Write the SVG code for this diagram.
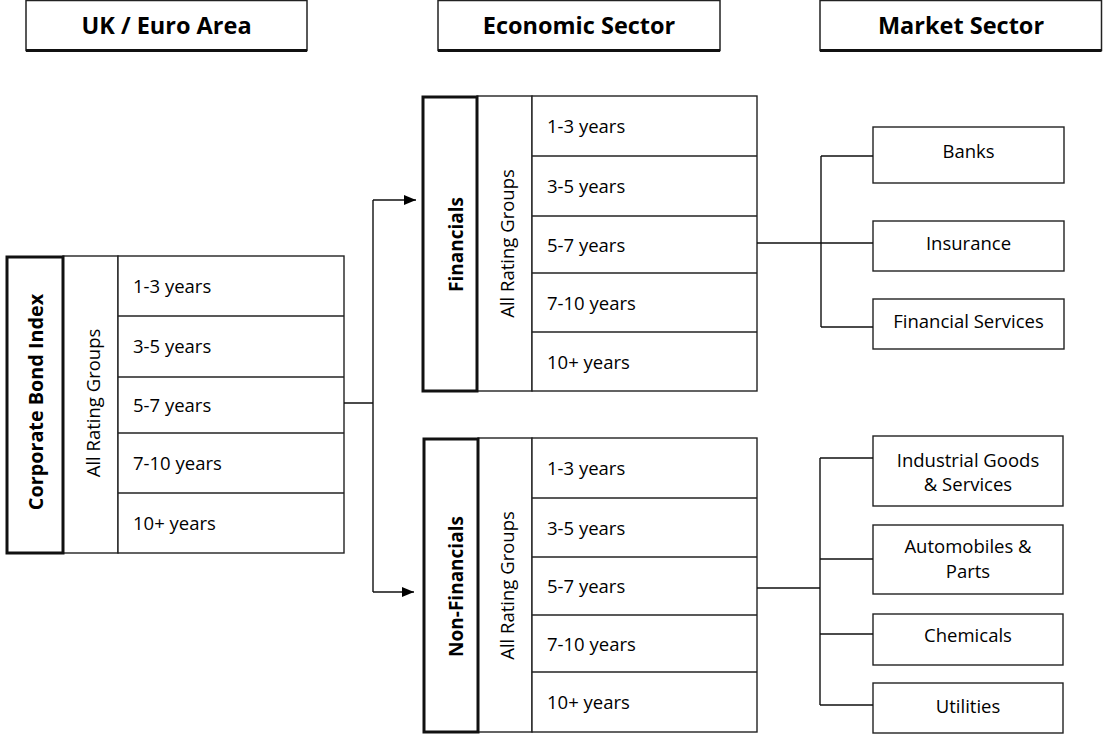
<svg xmlns="http://www.w3.org/2000/svg" width="1103" height="735" viewBox="0 0 1103 735">
<style>
  .hdr { fill:#fff; stroke:#222; stroke-width:1.5; }
  .shadow { stroke:#111; stroke-width:3; }
  .thick { fill:#fff; stroke:#111; stroke-width:3; }
  .thin { fill:#fff; stroke:#222; stroke-width:1.4; }
  .row { stroke:#222; stroke-width:1.4; }
  .conn { fill:none; stroke:#111; stroke-width:1.4; }
  text { font-family:"Open Sans","Noto Sans","Liberation Sans",sans-serif; fill:#000; }
  .h { font-size:23.5px; font-weight:bold; text-anchor:middle; }
  .b { font-size:19px; font-weight:bold; text-anchor:middle; }
  .bc { font-size:19.8px; font-weight:bold; text-anchor:middle; }
  .v { font-size:18.5px; text-anchor:middle; }
  .y { font-size:18.5px; }
  .m { font-size:18.5px; text-anchor:middle; }
</style>
<defs>
  <marker id="arr" markerWidth="12" markerHeight="10" refX="12" refY="5" orient="auto" markerUnits="userSpaceOnUse">
    <polygon points="0,0 12,5 0,10" fill="#000"/>
  </marker>
</defs>
<rect width="1103" height="735" fill="#fff"/>

<g id="hdr-uk">
  <rect class="hdr" x="26" y="0.5" width="281" height="50"/>
  <line class="shadow" x1="26" y1="50.5" x2="307" y2="50.5"/>
  <text class="h" x="166.5" y="34">UK / Euro Area</text>
</g>
<g id="hdr-econ">
  <rect class="hdr" x="438" y="0.5" width="282" height="50"/>
  <line class="shadow" x1="438" y1="50.5" x2="720" y2="50.5"/>
  <text class="h" x="579" y="34">Economic Sector</text>
</g>
<g id="hdr-market">
  <rect class="hdr" x="820" y="0.5" width="281.5" height="50"/>
  <line class="shadow" x1="820" y1="50.5" x2="1101.5" y2="50.5"/>
  <text class="h" x="961" y="34">Market Sector</text>
</g>

<g id="corporate">
  <rect class="thin" x="63" y="256" width="55" height="297"/>
  <rect class="thin" x="118" y="256" width="226" height="297"/>
  <line class="row" x1="118" y1="316" x2="344" y2="316"/>
  <line class="row" x1="118" y1="377" x2="344" y2="377"/>
  <line class="row" x1="118" y1="433" x2="344" y2="433"/>
  <line class="row" x1="118" y1="493" x2="344" y2="493"/>
  <rect class="thick" x="7" y="257" width="56" height="296"/>
  <text class="bc" x="43" y="402" transform="rotate(-90 43 402)">Corporate Bond Index</text>
  <text class="v" x="100" y="403" transform="rotate(-90 100 403)">All Rating Groups</text>
  <text class="y" x="133" y="292.5">1-3 years</text>
  <text class="y" x="133" y="353">3-5 years</text>
  <text class="y" x="133" y="411.5">5-7 years</text>
  <text class="y" x="133" y="469.5">7-10 years</text>
  <text class="y" x="133" y="529.5">10+ years</text>
</g>

<g id="financials">
  <rect class="thin" x="477" y="96" width="55" height="295"/>
  <rect class="thin" x="532" y="96" width="225" height="295"/>
  <line class="row" x1="532" y1="156" x2="757" y2="156"/>
  <line class="row" x1="532" y1="216" x2="757" y2="216"/>
  <line class="row" x1="532" y1="273" x2="757" y2="273"/>
  <line class="row" x1="532" y1="332" x2="757" y2="332"/>
  <rect class="thick" x="423" y="97" width="54" height="294"/>
  <text class="b" x="463" y="244.5" transform="rotate(-90 463 244.5)">Financials</text>
  <text class="v" x="514" y="243.5" transform="rotate(-90 514 243.5)">All Rating Groups</text>
  <text class="y" x="547" y="133">1-3 years</text>
  <text class="y" x="547" y="193">3-5 years</text>
  <text class="y" x="547" y="251.5">5-7 years</text>
  <text class="y" x="547" y="309.5">7-10 years</text>
  <text class="y" x="547" y="368.5">10+ years</text>
</g>

<g id="non-financials">
  <rect class="thin" x="478" y="438" width="54" height="294"/>
  <rect class="thin" x="532" y="438" width="225" height="294"/>
  <line class="row" x1="532" y1="498" x2="757" y2="498"/>
  <line class="row" x1="532" y1="557" x2="757" y2="557"/>
  <line class="row" x1="532" y1="615" x2="757" y2="615"/>
  <line class="row" x1="532" y1="672" x2="757" y2="672"/>
  <rect class="thick" x="424" y="439" width="54" height="293"/>
  <text class="b" x="463" y="586.5" transform="rotate(-90 463 586.5)">Non-Financials</text>
  <text class="v" x="514" y="585.5" transform="rotate(-90 514 585.5)">All Rating Groups</text>
  <text class="y" x="547" y="475">1-3 years</text>
  <text class="y" x="547" y="534.5">3-5 years</text>
  <text class="y" x="547" y="593">5-7 years</text>
  <text class="y" x="547" y="650.5">7-10 years</text>
  <text class="y" x="547" y="709">10+ years</text>
</g>

<g id="banks">
  <rect class="thin" x="873" y="127" width="191" height="56"/>
  <text class="m" x="968.5" y="158">Banks</text>
</g>
<g id="insurance">
  <rect class="thin" x="873" y="221" width="191" height="50"/>
  <text class="m" x="968.5" y="250">Insurance</text>
</g>
<g id="financial-services">
  <rect class="thin" x="873" y="299" width="191" height="50"/>
  <text class="m" x="968.5" y="328">Financial Services</text>
</g>
<g id="industrial">
  <rect class="thin" x="873" y="436" width="190" height="70"/>
  <text class="m" x="968" y="467">Industrial Goods</text>
  <text class="m" x="968" y="491">&amp; Services</text>
</g>
<g id="automobiles">
  <rect class="thin" x="873" y="525" width="190" height="69"/>
  <text class="m" x="968" y="553">Automobiles &amp;</text>
  <text class="m" x="968" y="578">Parts</text>
</g>
<g id="chemicals">
  <rect class="thin" x="873" y="614" width="190" height="51"/>
  <text class="m" x="968" y="642">Chemicals</text>
</g>
<g id="utilities">
  <rect class="thin" x="873" y="683" width="190" height="50"/>
  <text class="m" x="968" y="713">Utilities</text>
</g>

<g id="connectors">
  <path class="conn" d="M344,403 H373 M373,200 V592"/>
  <path class="conn" d="M373,200 H416" marker-end="url(#arr)"/>
  <path class="conn" d="M373,592 H414" marker-end="url(#arr)"/>
  <path class="conn" d="M757,243 H873 M821,156 V327 M821,156 H873 M821,327 H873"/>
  <path class="conn" d="M757,588 H820 M820,458 V705 M820,458 H873 M820,559 H873 M820,634 H873 M820,705 H873"/>
</g>
</svg>
